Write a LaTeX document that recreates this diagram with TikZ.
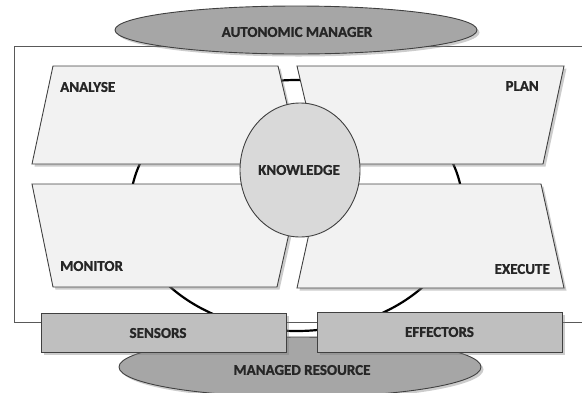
\documentclass[tikz,border=0pt]{standalone}
\usepackage{fontspec}
\setmainfont{Carlito}[BoldFont={Carlito Bold}, BoldFeatures={FakeBold=1.2}]
\usetikzlibrary{shapes.geometric,shadows}
\definecolor{boxfill}{HTML}{F2F2F2}
\definecolor{edge}{HTML}{404040}
\definecolor{ellfill}{HTML}{A6A6A6}
\definecolor{knowfill}{HTML}{D9D9D9}
\definecolor{sefill}{HTML}{BFBFBF}
\definecolor{txt}{HTML}{262626}
\definecolor{frame}{HTML}{595959}
\begin{document}
\begin{tikzpicture}[x=1pt,y=-1pt,
  lbl/.style={font=\bfseries\fontsize{15}{15}\selectfont, text=txt, inner sep=0pt},
  shad/.style={drop shadow={shadow xshift=2.5pt, shadow yshift=-2.5pt, opacity=0.4}},
  panel/.style={fill=boxfill, draw=edge, line width=0.9pt, shad},
  oval/.style={ellipse, draw=edge, line width=0.9pt, fill=ellfill, inner sep=0pt, shad},
  sebox/.style={rectangle, draw=edge, line width=0.9pt, fill=sefill, inner sep=0pt, shad},
  ring/.style={line width=2.2pt, black},
  outer/.style={draw=frame, line width=0.8pt}]
\useasboundingbox (0,0) rectangle (582,392);
\clip (0,0) rectangle (582,392);
% managed resource
\node[oval, minimum width=362pt, minimum height=60pt] (mr) at (300,367) {};
% outer frame
\draw[outer] (14.5,46) rectangle (600,322);
% ring
\draw[ring] (296.5,205.5) ellipse [x radius=166pt, y radius=125.5pt];
% panels
\path[panel] (53,66) -- (278,66) -- (301,164) -- (32,164) -- cycle;
\path[panel] (297,66) -- (564,66) -- (543,164) -- (320,164) -- cycle;
\path[panel] (32,184) -- (300,184) -- (277,287) -- (53,287) -- cycle;
\path[panel] (320,184) -- (541,184) -- (564,288) -- (297,288) -- cycle;
% knowledge
\node[ellipse, draw=edge, line width=0.9pt, fill=knowfill, inner sep=0pt,
      minimum width=120pt, minimum height=134pt] (kn) at (300,170) {};
% autonomic manager
\node[oval, minimum width=362pt, minimum height=48pt] (am) at (296,30) {};
% sensors / effectors
\node[sebox, minimum width=245pt, minimum height=39pt] (sen) at (163.5,332.5) {};
\node[sebox, minimum width=245pt, minimum height=40pt] (eff) at (439.5,332) {};
% texts
\node[lbl] (amt) at (297,32) {AUTONOMIC MANAGER};
\node[lbl] (mrt) at (302,370) {MANAGED RESOURCE};
\node[lbl] (knt) at (299,170) {KNOWLEDGE};
\node[lbl, anchor=west] (ant) at (60,87) {ANALYSE};
\node[lbl, anchor=east] (plt) at (539,86) {PLAN};
\node[lbl, anchor=west] (mot) at (60,266) {MONITOR};
\node[lbl, anchor=east] (ext) at (550,269) {EXECUTE};
\node[lbl] (sent) at (158,333) {SENSORS};
\node[lbl] (efft) at (439.5,332) {EFFECTORS};
\end{tikzpicture}
\end{document}
